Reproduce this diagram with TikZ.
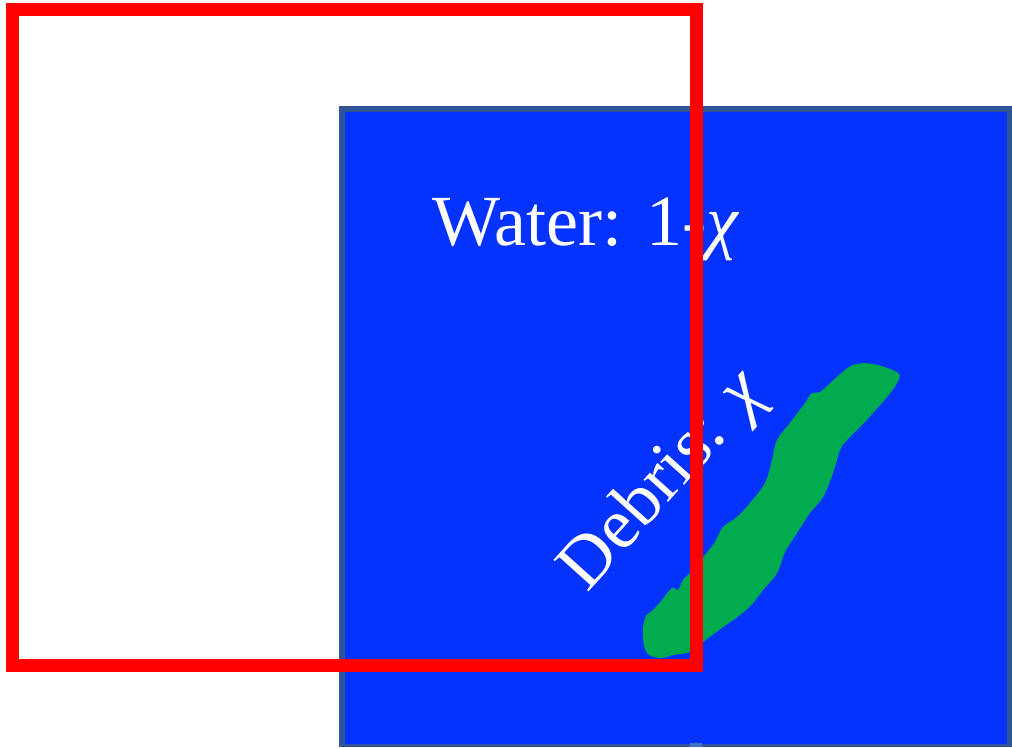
\documentclass[tikz,border=0pt]{standalone}
\usepackage{fontspec}
\setmainfont{Liberation Serif}
\definecolor{boxblue}{RGB}{4,51,255}
\definecolor{boxedge}{RGB}{47,85,151}
\definecolor{debrisgreen}{RGB}{0,172,78}
\definecolor{markblue}{RGB}{68,114,196}
\tikzset{
  label/.style={text=white, font=\fontsize{72}{80}\selectfont, inner sep=0pt},
  redframe/.style={draw=red, line width=13pt},
}
\begin{document}
\begin{tikzpicture}[x=1pt,y=-1pt]
\useasboundingbox (0,0) rectangle (1012,747);
% blue domain
\fill[boxedge] (339,106) rectangle (1012,747);
\fill[boxblue] (345,112) rectangle (1007,744);
\fill[markblue] (690,743) rectangle (702,747);
% debris blob
\fill[debrisgreen] plot[smooth cycle, tension=0.6] coordinates {
(898,373) (873,364) (853,365) (837,377) (820,392) (812,393) (805,403) (790,423)
(777,440) (772,460) (765,483) (750,503) (737,517) (723,527) (715,542) (705,555)
(690,573) (683,580) (678,590) (672,588) (662,600) (653,610) (645,618) (643,637)
(647,653) (660,658) (673,655) (690,652) (703,642) (723,627) (740,615) (753,603)
(763,590) (777,573) (785,552) (797,533) (810,513) (823,497) (833,473) (840,450)
(847,440) (860,427) (873,413) (887,397) (897,383)};
% labels
\node[label, anchor=base west] (water) at (432,245) {Water: 1-{\itshape χ}};
\node[label, rotate=48] (debris) at (664,482) {Debris: {\itshape χ}};
% red window
\draw[redframe] (12.5,9.5) rectangle (696,665);
\end{tikzpicture}
\end{document}
